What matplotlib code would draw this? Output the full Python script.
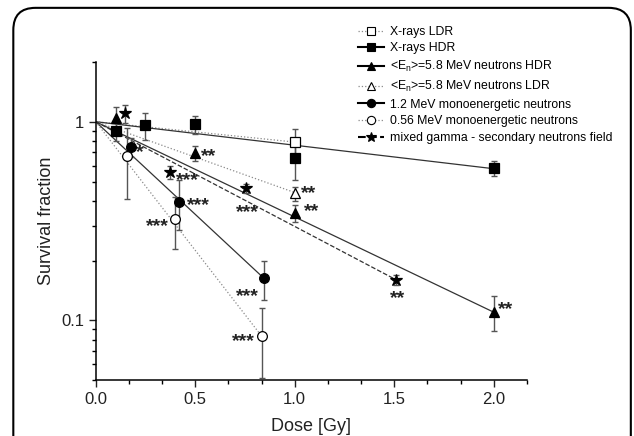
import numpy as np
import matplotlib
matplotlib.use('Agg')
import matplotlib.pyplot as plt
from matplotlib.patches import FancyBboxPatch

plt.rcParams['font.family'] = ['Liberation Sans', 'DejaVu Sans']
plt.rcParams['mathtext.fontset'] = 'custom'
plt.rcParams['mathtext.rm'] = 'Liberation Sans'
plt.rcParams['mathtext.default'] = 'regular'

# dane: dawka [Gy], frakcja przezycia, bledy
xr_ldr_x = [1.0]
xr_ldr_y = [0.79]
xr_ldr_e = [0.13]

xr_hdr_x = [0.1, 0.25, 0.5, 1.0, 2.0]
xr_hdr_y = [0.90, 0.96, 0.97, 0.66, 0.585]
xr_hdr_e = [0.10, 0.15, 0.10, 0.15, 0.05]

n58_hdr_x = [0.1, 0.5, 1.0, 2.0]
n58_hdr_y = [1.04, 0.695, 0.347, 0.110]
n58_hdr_e = [0.14, 0.06, 0.035, 0.022]

n58_ldr_x = [1.0]
n58_ldr_y = [0.436]
n58_ldr_e = [0.035]

n12_x = [0.175, 0.42, 0.845]
n12_y = [0.745, 0.396, 0.163]
n12_e = [0.08, 0.11, 0.037]

n056_x = [0.155, 0.40, 0.835]
n056_y = [0.67, 0.323, 0.083]
n056_e = [0.26, 0.095, 0.032]

mix_x = [0.147, 0.374, 0.753, 1.51]
mix_y = [1.10, 0.557, 0.463, 0.160]
mix_e = [0.12, 0.04, 0.025, 0.01]

# koncowe punkty dopasowanych prostych (start w (0, 1))
fit_end_x = [1.0, 2.0, 2.0, 1.0, 0.845, 0.835, 1.51]
fit_end_y = [0.79, 0.58, 0.11, 0.44, 0.163, 0.083, 0.16]

labels = ['X-rays LDR', 'X-rays HDR',
          '<E$_{n}$>=5.8 MeV neutrons HDR', '<E$_{n}$>=5.8 MeV neutrons LDR',
          '1.2 MeV monoenergetic neutrons', '0.56 MeV monoenergetic neutrons',
          'mixed gamma - secondary neutrons field']

# gwiazdki istotnosci
sig_text = ['*', '**', '***', '***', '***', '***', '***', '***', '**', '**', '**', '**']
sig_x = [0.22, 0.565, 0.46, 0.515, 0.76, 0.31, 0.76, 0.74, 1.07, 1.085, 1.515, 2.06]
sig_y = [0.73, 0.70, 0.526, 0.396, 0.364, 0.31, 0.138, 0.082, 0.454, 0.367, 0.134, 0.119]

series = [
    (xr_ldr_x, xr_ldr_y, xr_ldr_e, 's', 'white', ':', '#8a8a8a'),
    (xr_hdr_x, xr_hdr_y, xr_hdr_e, 's', 'black', '-', '#333333'),
    (n58_hdr_x, n58_hdr_y, n58_hdr_e, '^', 'black', '-', '#333333'),
    (n58_ldr_x, n58_ldr_y, n58_ldr_e, '^', 'white', ':', '#8a8a8a'),
    (n12_x, n12_y, n12_e, 'o', 'black', '-', '#333333'),
    (n056_x, n056_y, n056_e, 'o', 'white', ':', '#8a8a8a'),
    (mix_x, mix_y, mix_e, '*', 'black', '--', '#333333'),
]
msizes = [7, 6.5, 7.5, 7.5, 7, 7, 9]

fig = plt.figure(figsize=(6.34, 4.36), dpi=100)
ax = fig.add_axes([0.151, 0.128, 0.680, 0.730])

handles = []
for i, (x, y, e, m, fc, ls, lc) in enumerate(series):
    ax.plot([0, fit_end_x[i]], [1, fit_end_y[i]], ls=ls, color=lc, lw=0.9, zorder=2)
    ax.errorbar(x, y, yerr=e, fmt='none', ecolor='#555555', elinewidth=1.0,
                capsize=2.5, capthick=1.0, zorder=3)
    ax.plot(x, y, ls='none', marker=m, ms=msizes[i], mfc=fc, mec='black',
            mew=0.9, zorder=4)
    h, = ax.plot([], [], ls=ls, color='black' if ls != ':' else '#8a8a8a',
                 lw=1.5 if ls != ':' else 0.9, marker=m,
                 ms=msizes[i] * 0.85, mfc=fc, mec='black', mew=0.8)
    handles.append(h)

for t, sx, sy in zip(sig_text, sig_x, sig_y):
    ax.annotate(t, (sx, sy), xytext=(0, -6), textcoords='offset points',
                fontsize=14, fontweight='bold', ha='center', va='baseline',
                color='#222222')

ax.set_yscale('log')
ax.set_xlim(0, 13 / 6)
ax.set_ylim(0.05, 2)
ax.set_xticks([0.0, 0.5, 1.0, 1.5, 2.0])
ax.set_xticklabels(['0.0', '0.5', '1.0', '1.5', '2.0'])
ax.set_xticks(np.arange(0, 13 / 6 + 0.01, 1 / 6), minor=True)
ax.set_yticks([0.1, 1])
ax.set_yticklabels(['0.1', '1'])
ax.set_yticks([0.05, 0.06, 0.07, 0.08, 0.09, 0.2, 0.3, 0.4, 0.5,
               0.6, 0.7, 0.8, 0.9, 2], minor=True)
ax.yaxis.set_minor_formatter(plt.NullFormatter())

for s in ['top', 'right']:
    ax.spines[s].set_visible(False)
for s in ['left', 'bottom']:
    ax.spines[s].set_linewidth(1.1)
ax.tick_params(which='major', length=5, width=1.0, labelsize=12, colors='#222222')
ax.tick_params(which='minor', length=3, width=1.0)
ax.set_xlabel('Dose [Gy]', fontsize=13, color='#222222', labelpad=8)
ax.set_ylabel('Survival fraction', fontsize=13, color='#222222', labelpad=4)

leg = fig.legend(handles, labels, loc='upper left', bbox_to_anchor=(0.557, 0.952),
                 frameon=False, fontsize=8.8, handlelength=2.1, handletextpad=0.5,
                 labelspacing=0.38, borderaxespad=0)

box = FancyBboxPatch((0.021, -0.1), 0.974, 1.082, boxstyle='round,pad=0,rounding_size=0.035',
                     transform=fig.transFigure, fill=False, lw=1.5, ec='black',
                     mutation_aspect=634 / 436)
fig.patches.append(box)

fig.savefig('out.png', dpi=100)
